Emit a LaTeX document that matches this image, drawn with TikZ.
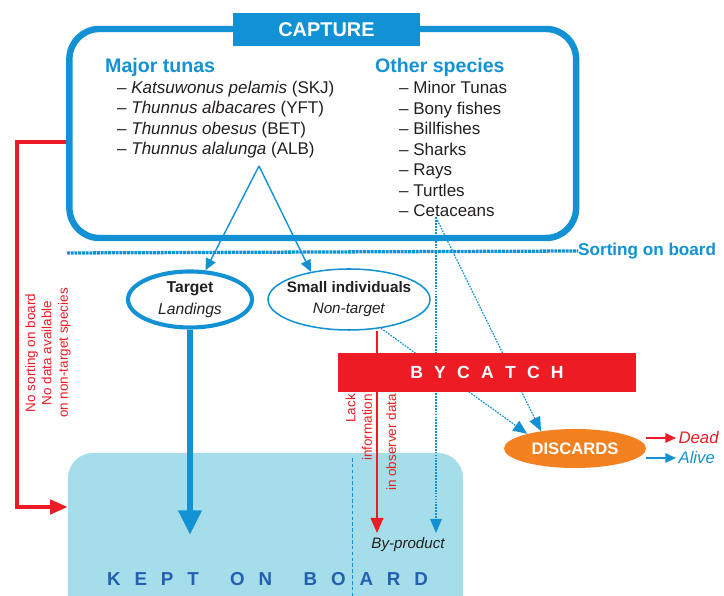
\documentclass[tikz,border=0pt]{standalone}
\usepackage{fontspec}
\setmainfont{Liberation Sans}
\usetikzlibrary{shapes.geometric,arrows.meta}
\definecolor{capblue}{RGB}{18,146,212}
\definecolor{byred}{RGB}{237,28,36}
\definecolor{disorange}{RGB}{243,129,31}
\definecolor{keptfill}{RGB}{165,222,234}
\definecolor{keptblue}{RGB}{35,96,176}
\definecolor{inkgray}{RGB}{35,31,32}
\newcommand{\fsz}[2]{\fontsize{#1}{#2}\selectfont}
\newcommand{\lsp}{\hspace{0.74em}}
\newcommand{\wsp}{\hspace{1.68em}}
\newcommand{\bsp}{\hspace{0.64em}}
\begin{document}
\begin{tikzpicture}[x=0.03cm, y=0.03cm,
  head/.style={inner sep=0pt, anchor=base west, text=capblue, font={\bfseries\fsz{16.7}{20}}},
  item/.style={inner sep=0pt, anchor=base west, text=inkgray, font={\fsz{14.5}{17.5}}},
  redtext/.style={inner sep=0pt, rotate=90, text=byred, font={\fsz{11.5}{14}}},
  thinarrow/.style={capblue, line width=1.2pt, -{Triangle[length=10pt,width=9pt]}},
  dotarrow/.style={capblue, line width=1pt, dash pattern=on 1.5pt off 1pt, -{Triangle[length=12pt,width=10pt]}},
  redthin/.style={byred, line width=1.2pt, -{Triangle[length=13pt,width=11pt]}}]
\useasboundingbox (0,0) rectangle (724,596);
\begin{scope}
  \clip (0,0) rectangle (724,596);
  \node[rectangle, rounded corners=0.75cm, fill=keptfill, minimum width=11.85cm, minimum height=5.19cm] (kept) at (265.5,56.5) {};
\end{scope}
  \draw[capblue, line width=0.8pt, dash pattern=on 3pt off 2pt] (352,138) -- (352,0);
  \node[inner sep=0pt, text=keptblue, font={\bfseries\fsz{16}{18}}] (kepttxt) at (267.5,17) {K\lsp E\lsp P\lsp T\wsp O\lsp N\wsp B\lsp O\lsp A\lsp R\lsp D};
  \node[draw=capblue, line width=5.5pt, rounded corners=0.9cm, minimum width=15.2cm, minimum height=6.27cm] (capbox) at (322.75,462.5) {};
  \node[fill=capblue, text=white, minimum width=5.61cm, minimum height=0.99cm, font={\bfseries\fsz{17}{20}}] (capture) at (326.5,566.5) {CAPTURE};
  \node[head] (majhead) at (105,523) {Major tunas};
  \node[item] (skj) at (117,502.5) {-- \textit{Katsuwonus pelamis} (SKJ)};
  \node[item] (yft) at (117,482) {-- \textit{Thunnus albacares} (YFT)};
  \node[item] (bet) at (117,461.5) {-- \textit{Thunnus obesus} (BET)};
  \node[item] (alb) at (117,441) {-- \textit{Thunnus alalunga} (ALB)};
  \node[head] (othhead) at (375,523) {Other species};
  \node[item] (minor) at (399,502) {-- Minor Tunas};
  \node[item] (bony) at (399,481.5) {-- Bony fishes};
  \node[item] (bill) at (399,461) {-- Billfishes};
  \node[item] (sharks) at (399,440.5) {-- Sharks};
  \node[item] (rays) at (399,420) {-- Rays};
  \node[item] (turtles) at (399,399.5) {-- Turtles};
  \node[item] (cet) at (399,379) {-- Cetaceans};
  \node[redtext, align=center] (nosort) at (48,243) {No sorting on board\\No data available\\on non-target species};
  \node[inner sep=0pt, anchor=west, text=capblue, font={\bfseries\fsz{14.6}{17}}] (sorting) at (578,345) {Sorting on board};
  \draw[capblue, line width=2.8pt, dash pattern=on 2.5pt off 0.7pt] (67,343) -- (sorting.west);
  \node[ellipse, draw=capblue, line width=3.5pt, inner sep=1pt, minimum width=3.72cm, minimum height=1.68cm, align=center, text=inkgray, font={\fsz{13.4}{18.8}}] (target) at (190,296.5) {\makebox[0pt]{\textbf{Target}}\\\makebox[0pt]{\textit{Landings}}};
  \node[ellipse, draw=capblue, line width=1.3pt, inner sep=1pt, minimum width=4.86cm, minimum height=1.83cm, align=center, text=inkgray, font={\fsz{13}{18}}] (small) at (349,296.5) {\makebox[0pt]{\textbf{Small individuals}}\\\makebox[0pt]{\textit{Non-target}}};
  \node[ellipse, fill=disorange, inner sep=1pt, minimum width=4.26cm, minimum height=1.17cm, text=white, font={\bfseries\fsz{14.2}{17}}] (discards) at (575,147.5) {DISCARDS};
  \node[inner sep=2pt, anchor=west, text=byred, font={\itshape\fsz{14.3}{17}}] (dead) at (676,158) {Dead};
  \node[inner sep=2pt, anchor=west, text=capblue, font={\itshape\fsz{14.3}{17}}] (alive) at (676,138) {Alive};
  \node[inner sep=0pt, text=inkgray, font={\itshape\fsz{12.9}{15}}] (byprod) at (408,51) {By-product};
  \node[redtext, anchor=east, align=right] (lack) at (371,202) {Lack\\information\\[6.8pt]in observer data};
  \coordinate (tunasplit) at (259,430);
  \coordinate (keptin) at (190,61);
  \coordinate (redturn) at (17,89);
  \coordinate (lacktip) at (377,63);
  \coordinate (byprodtip) at (436,63);
  \draw[byred, line width=3.4pt, -{Triangle[length=15pt,width=12pt]}] (capbox.west |- 0,454) -| (redturn) -- (kept.west |- redturn);
  \draw[thinarrow] (tunasplit) -- (target.62);
  \draw[thinarrow] (tunasplit) -- (small.144);
  \draw[capblue, line width=5pt, -{Triangle[length=21pt,width=19pt]}] (target) -- (keptin);
  \draw[redthin] (lacktip |- small.south) -- (lacktip);
  \draw[dotarrow] (byprodtip |- cet.south) -- (byprodtip);
  \draw[dotarrow] (byprodtip |- cet.south) -- (discards.153);
  \draw[dotarrow] (small.-42) -- (discards.163);
  \node[fill=byred, text=white, minimum width=8.94cm, minimum height=1.17cm, font={\bfseries\fsz{15}{18}}] (bycatch) at (487,223.5) {B\bsp Y\bsp C\bsp A\bsp T\bsp C\bsp H};
  \draw[byred, line width=1.2pt, -{Triangle[length=9pt,width=8pt]}] (discards.east |- dead.west) -- (dead.west);
  \draw[capblue, line width=1.2pt, -{Triangle[length=9pt,width=8pt]}] (discards.east |- alive.west) -- (alive.west);
\end{tikzpicture}
\end{document}
